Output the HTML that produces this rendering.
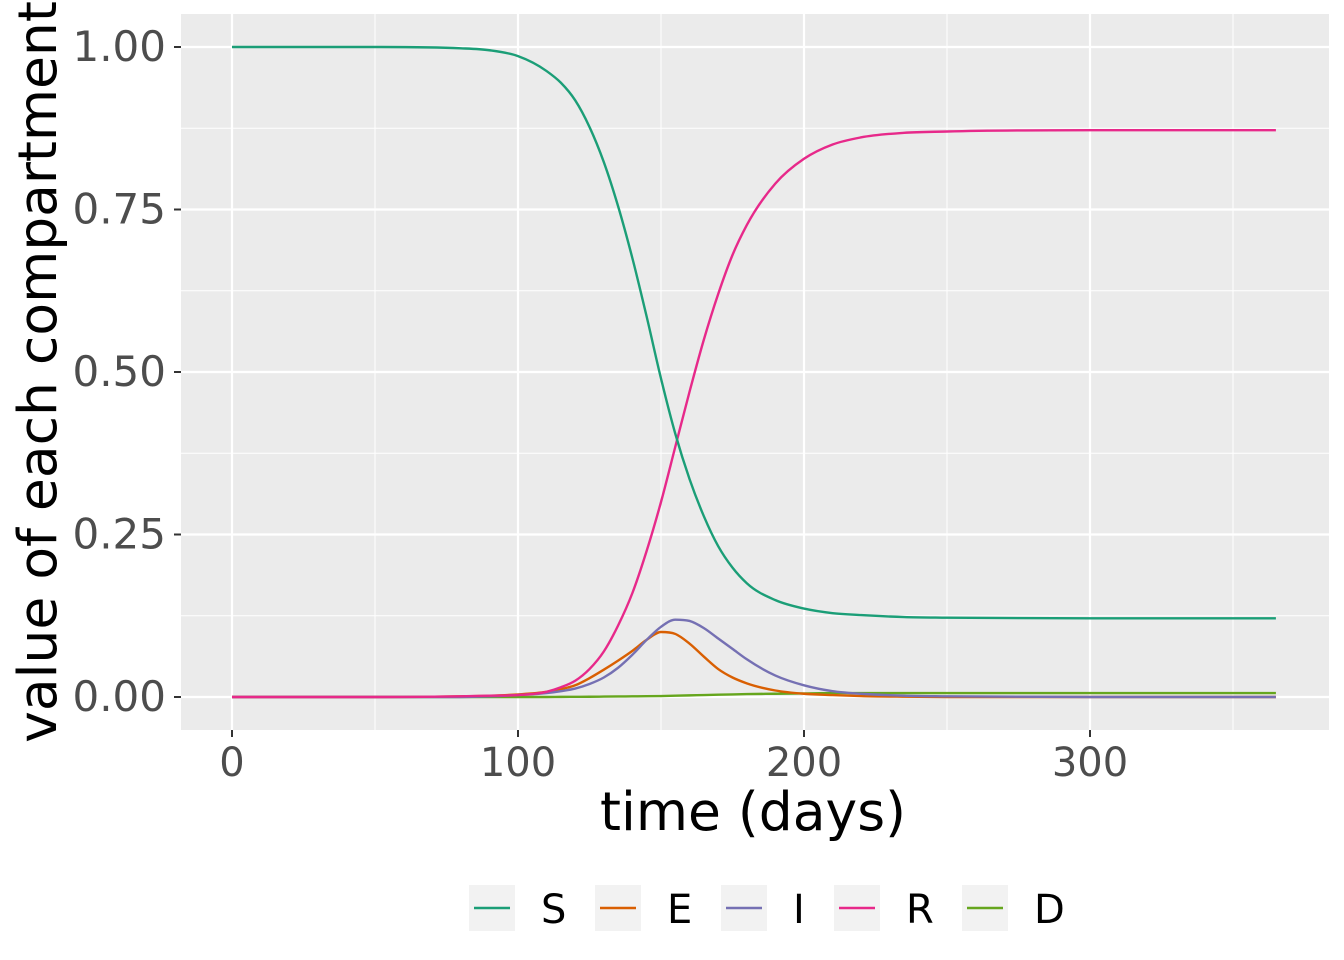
<!DOCTYPE html>
<html><head><meta charset="utf-8"><style>
body{margin:0;background:#fff;}
svg{display:block;font-family:"DejaVu Sans","Liberation Sans",sans-serif;}
</style></head><body>
<svg id="chart" width="1344" height="960">
<rect x="181" y="14" width="1148" height="716" fill="#ebebeb"/>
<g id="grid"></g><g id="series"></g><g id="axes"></g><g id="legend"></g>
<text x="753" y="830" font-size="53.5" text-anchor="middle" fill="#000">time (days)</text>
<text transform="translate(56,372) rotate(-90)" font-size="53.5" text-anchor="middle" fill="#000">value of each compartment</text>
</svg>
<script>
const days=[0,50,80,90,100,110,115,120,125,130,135,140,145,150,155,160,165,170,175,180,190,200,210,220,235,250,300,365];
const sVals=[1,1,0.998,0.995,0.986,0.963,0.945,0.918,0.877,0.823,0.755,0.675,0.585,0.49,0.405,0.335,0.278,0.232,0.199,0.175,0.149,0.136,0.129,0.126,0.123,0.122,0.121,0.121];
const eVals=[0,0,0.001,0.002,0.004,0.008,0.012,0.018,0.029,0.042,0.056,0.071,0.088,0.1,0.097,0.082,0.062,0.043,0.03,0.021,0.01,0.005,0.003,0.0015,0.0005,0,0,0];
const iVals=[0,0,0,0.001,0.003,0.006,0.009,0.013,0.02,0.03,0.045,0.065,0.088,0.108,0.119,0.117,0.106,0.09,0.074,0.058,0.033,0.018,0.009,0.005,0.002,0.001,0,0];
const rVals=[0,0,0.001,0.002,0.003,0.008,0.015,0.025,0.043,0.07,0.11,0.16,0.225,0.3,0.385,0.47,0.55,0.62,0.68,0.726,0.79,0.828,0.85,0.861,0.868,0.87,0.872,0.872];
const dVals=[0,0,0,0,0,0,0.0002,0.0003,0.0004,0.0006,0.0008,0.001,0.0012,0.0015,0.002,0.0025,0.003,0.0035,0.004,0.0045,0.005,0.0055,0.006,0.006,0.006,0.006,0.006,0.006];
const seriesNames=["S","E","I","R","D"];
const colors=["#1b9e77","#d95f02","#7570b3","#e7298a","#66a61e"];
const xTicks=[0,100,200,300];
const yTicks=[0,0.25,0.5,0.75,1];
const yTickLabels=["0.00","0.25","0.50","0.75","1.00"];
const NS="http://www.w3.org/2000/svg";
const X=d=>232+d*2.86, Y=v=>697-v*650;
function mk(tag,attrs,parent){const e=document.createElementNS(NS,tag);for(const k in attrs)e.setAttribute(k,attrs[k]);parent.appendChild(e);return e;}
const grid=document.getElementById('grid'),axes=document.getElementById('axes');
[50,150,250,350].forEach(d=>{const l=mk('line',{x1:X(d),x2:X(d),y1:14,y2:730,stroke:'#fff','stroke-width':1},grid);

});
[0.125,0.375,0.625,0.875].forEach(v=>{const l=mk('line',{x1:181,x2:1329,y1:Y(v),y2:Y(v),stroke:'#fff','stroke-width':1},grid);

});
xTicks.forEach(d=>{const l=mk('line',{x1:X(d),x2:X(d),y1:14,y2:730,stroke:'#fff','stroke-width':2.2},grid);


const t=mk('line',{x1:X(d),x2:X(d),y1:730,y2:737,stroke:'#333','stroke-width':2},axes);


const tx=mk('text',{x:X(d),y:776,'font-size':40,'text-anchor':'middle',fill:'#4d4d4d'},axes);tx.textContent=d;

});
yTicks.forEach((v,i)=>{const l=mk('line',{x1:181,x2:1329,y1:Y(v),y2:Y(v),stroke:'#fff','stroke-width':2.2},grid);


const t=mk('line',{x1:174,x2:181,y1:Y(v),y2:Y(v),stroke:'#333','stroke-width':2},axes);


const tx=mk('text',{x:166,y:Y(v)+14,'font-size':42,'text-anchor':'end',fill:'#4d4d4d'},axes);tx.textContent=yTickLabels[i];

});
function pathFor(vals){
 const n=days.length,xs=days.map(X),ys=vals.map(Y);
 const dl=[],m=[];
 for(let i=0;i<n-1;i++)dl.push((ys[i+1]-ys[i])/(xs[i+1]-xs[i]));
 m[0]=dl[0];m[n-1]=dl[n-2];
 for(let i=1;i<n-1;i++){
  if(dl[i-1]*dl[i]<0){m[i]=0;continue;}
  const h0=xs[i]-xs[i-1],h1=xs[i+1]-xs[i];
  m[i]=(dl[i-1]*h1+dl[i]*h0)/(h0+h1);
 }
 for(let i=0;i<n-1;i++){if(dl[i]===0){m[i]=0;m[i+1]=0;continue;}
  const a=m[i]/dl[i],b=m[i+1]/dl[i],s=a*a+b*b;if(s>9){const t=3/Math.sqrt(s);m[i]=t*a*dl[i];m[i+1]=t*b*dl[i];}}
 let p=`M${xs[0]},${ys[0]}`;
 for(let i=0;i<n-1;i++){const h=(xs[i+1]-xs[i])/3;
  p+=` C${xs[i]+h},${ys[i]+m[i]*h} ${xs[i+1]-h},${ys[i+1]-m[i+1]*h} ${xs[i+1]},${ys[i+1]}`;}
 return p;
}
const allVals=[sVals,eVals,iVals,rVals,dVals];
const sg=document.getElementById('series');
[4,1,2,3,0].forEach(k=>{const pth=mk('path',{d:pathFor(allVals[k]),fill:'none',stroke:colors[k],'stroke-width':2.4},sg);

});
const lg=document.getElementById('legend');
const keyX=[469,595,721,834,962];
seriesNames.forEach((n,i)=>{const g=mk('g',{},lg);


mk('rect',{x:keyX[i],y:885,width:46,height:46,fill:'#f2f2f2'},g);
mk('line',{x1:keyX[i]+5,x2:keyX[i]+41,y1:908,y2:908,stroke:colors[i],'stroke-width':2.4},g);
const t=mk('text',{x:keyX[i]+72,y:923,'font-size':40,fill:'#000'},g);t.textContent=n;});
</script>
</body></html>
